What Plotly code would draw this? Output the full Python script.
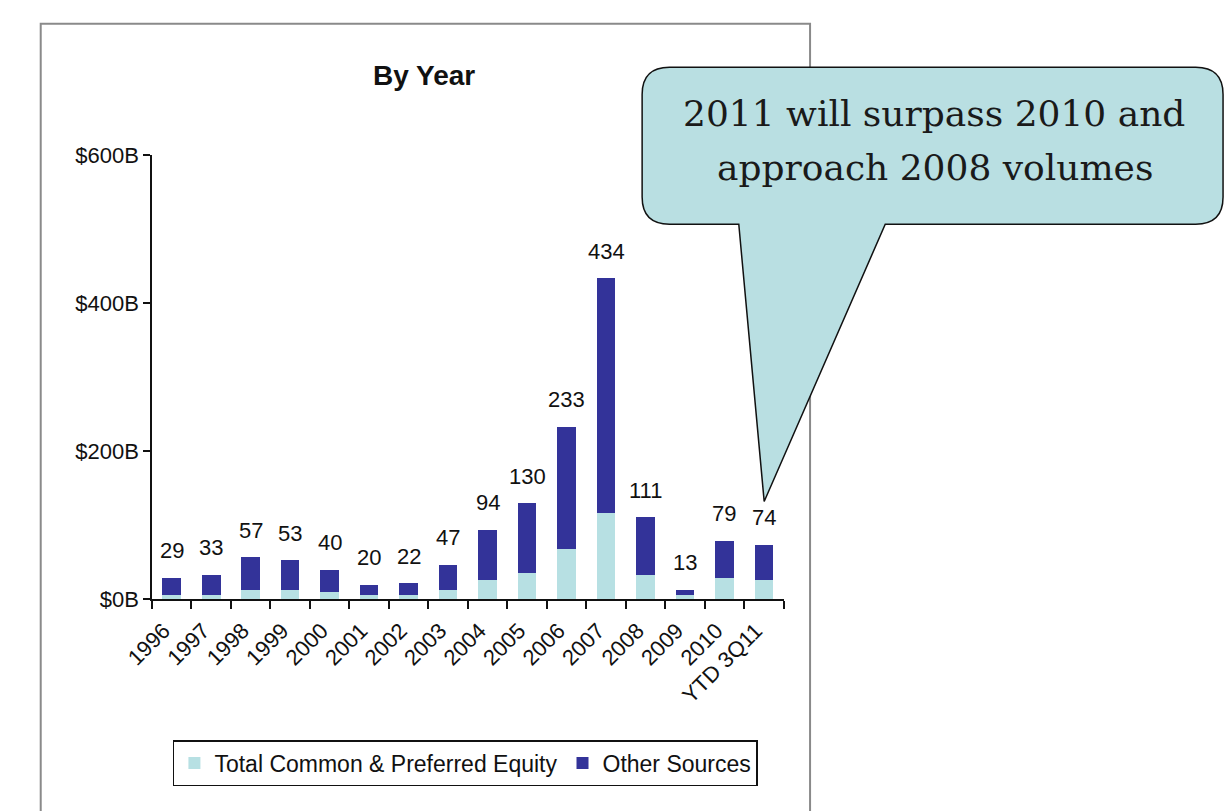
import plotly.graph_objects as go

# Issuance volume by year, $ billions
years = ["1996", "1997", "1998", "1999", "2000", "2001", "2002", "2003",
         "2004", "2005", "2006", "2007", "2008", "2009", "2010", "YTD 3Q11"]
totals = [29, 33, 57, 53, 40, 20, 22, 47, 94, 130, 233, 434, 111, 13, 79, 74]
equity = [6, 6, 13, 13, 10, 6, 6, 13, 26, 36, 68, 117, 33, 6, 29, 26]
other = [t - e for t, e in zip(totals, equity)]

y_ticks = [0, 200, 400, 600]
y_tick_labels = ["$0B", "$200B", "$400B", "$600B"]

W, H = 1225, 811
FONT = "Arial, Liberation Sans, sans-serif"
LIGHT = "#b7e0e3"
DARK = "#333399"


def px(x, y):
    """Pixel position -> paper coordinates string for shape paths."""
    return f"{x / W:.5f},{1 - y / H:.5f}"


fig = go.Figure()
fig.add_trace(go.Bar(x=years, y=equity, name="Total Common & Preferred Equity",
                     marker=dict(color=LIGHT, line=dict(width=0))))
fig.add_trace(go.Bar(x=years, y=other, name="Other Sources",
                     marker=dict(color=DARK, line=dict(width=0))))

# total labels above each stack (category index keeps year-like names
# from being read as numbers)
for i, tot in enumerate(totals):
    fig.add_annotation(x=i, y=tot, xref="x", yref="y", text=str(tot),
                       showarrow=False, yanchor="middle", yshift=27,
                       font=dict(family=FONT, size=22, color="#111"))

# chart frame
fig.add_shape(type="rect", xref="paper", yref="paper",
              x0=12 / W, x1=800 / W, y0=-0.05, y1=1 - 12 / H,
              line=dict(color="#8a8a8a", width=2), fillcolor="rgba(0,0,0,0)",
              layer="below")

# speech-bubble callout
L, T, R, B, r = 628, 57, 1223, 219, 28
path = (f"M{px(L + r, T)} L{px(R - r, T)} Q{px(R, T)} {px(R, T + r)} "
        f"L{px(R, B - r)} Q{px(R, B)} {px(R - r, B)} "
        f"L{px(877, B)} L{px(753, 505)} L{px(727, B)} "
        f"L{px(L + r, B)} Q{px(L, B)} {px(L, B - r)} "
        f"L{px(L, T + r)} Q{px(L, T)} {px(L + r, T)} Z")
fig.add_shape(type="path", xref="paper", yref="paper", path=path,
              fillcolor="#b9dfe2", line=dict(color="#111", width=1.5),
              layer="above")

SERIF = "DejaVu Serif, serif"
fig.add_annotation(x=927 / W, y=1 - 105 / H, xref="paper", yref="paper",
                   text="2011 will surpass 2010 and", showarrow=False,
                   xanchor="center", yanchor="middle",
                   font=dict(family=SERIF, size=36, color="#1a1a1a"))
fig.add_annotation(x=928 / W, y=1 - 160 / H, xref="paper", yref="paper",
                   text="approach 2008 volumes", showarrow=False,
                   xanchor="center", yanchor="middle",
                   font=dict(family=SERIF, size=36, color="#1a1a1a"))

# title
fig.add_annotation(x=405 / W, y=1 - 66 / H, xref="paper", yref="paper",
                   text="<b>By Year</b>", showarrow=False,
                   xanchor="center", yanchor="middle",
                   font=dict(family=FONT, size=28, color="#111"))

fig.update_layout(
    width=W, height=H,
    margin=dict(l=0, r=0, t=0, b=0),
    paper_bgcolor="white", plot_bgcolor="white",
    barmode="stack", bargap=0.53,
    showlegend=True,
    legend=dict(orientation="h", x=447 / W, y=1 - 775 / H,
                xanchor="center", yanchor="middle",
                bordercolor="#111", borderwidth=1.5, bgcolor="white",
                font=dict(family=FONT, size=23, color="#111"),
                traceorder="normal", itemwidth=30),
    xaxis=dict(domain=[126 / W, 773 / W], type="category",
               range=[-0.5, len(years) - 0.5],
               showline=True, linecolor="#111", linewidth=1.5,
               ticks="outside", tickson="boundaries", ticklen=8,
               tickcolor="#111", tickwidth=1.5,
               tickangle=-45, showgrid=False,
               ticklabelstandoff=8, ticklabelshift=-8,
               tickfont=dict(family=FONT, size=22, color="#111")),
    yaxis=dict(domain=[1 - 606 / H, 1 - 148 / H], range=[0, 600],
               tickvals=y_ticks, ticktext=y_tick_labels,
               showline=True, linecolor="#111", linewidth=1.5,
               ticks="outside", ticklen=7, tickcolor="#111", tickwidth=1.5,
               showgrid=False, zeroline=False,
               tickfont=dict(family=FONT, size=22, color="#111")),
)

fig.write_html("out.html")
